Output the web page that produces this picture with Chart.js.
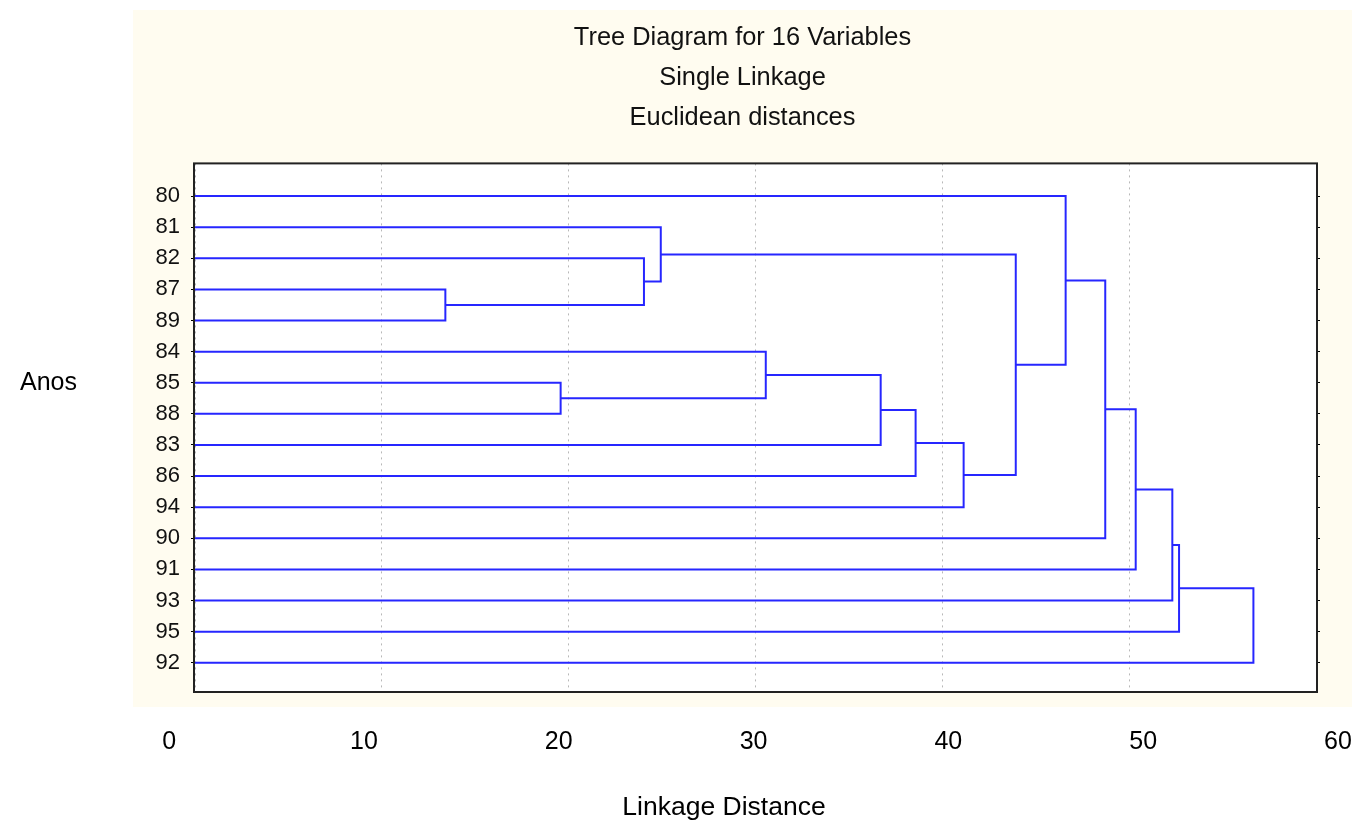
<!DOCTYPE html>
<html>
<head>
<meta charset="utf-8">
<script src="https://cdn.jsdelivr.net/npm/chart.js@4"></script>
<style>
  html, body { margin: 0; background: #fff; }
  canvas { display: block; }
</style>
</head>
<body>
<canvas id="grafico" width="1363" height="824"></canvas>
<script>
const folhas = ["80", "81", "82", "87", "89", "84", "85", "88", "83", "86", "94", "90", "91", "93", "95", "92"];
// cada junção une o grupo juntaA[k] com juntaB[k] (0-15 = anos, 16+ = grupos criados antes)
const juntaA = [3, 6, 2, 1, 5, 8, 9, 10, 19, 0, 11, 12, 13, 14, 15];
const juntaB = [4, 7, 16, 18, 17, 20, 21, 22, 23, 24, 25, 26, 27, 28, 29];
const distancias = [13.4, 19.57, 24.03, 24.93, 30.55, 36.7, 38.57, 41.14, 43.93, 46.6, 48.72, 50.35, 52.31, 52.67, 56.65];
const marcasX = [0, 10, 20, 30, 40, 50, 60];
const titulo = ["Tree Diagram for 16 Variables", "Single Linkage", "Euclidean distances"];

const azul = "#2626ff";
const fonte = "'Liberation Sans', Arial, sans-serif";

// posição vertical e altura de cada grupo
const posY = folhas.map((_, i) => i);
const altura = folhas.map(() => 0);
const conjuntos = distancias.map((d, k) => {
  const a = juntaA[k], b = juntaB[k];
  const ds = {
    data: [
      { x: altura[a], y: posY[a] },
      { x: d, y: posY[a] },
      { x: d, y: posY[b] },
      { x: altura[b], y: posY[b] }
    ],
    showLine: true,
    borderColor: azul,
    borderWidth: 2,
    pointRadius: 0,
    tension: 0
  };
  posY.push((posY[a] + posY[b]) / 2);
  altura.push(d);
  return ds;
});

const fundo = {
  id: "fundo",
  beforeDraw(chart) {
    const ctx = chart.ctx, a = chart.chartArea;
    ctx.save();
    ctx.fillStyle = "#fff";
    ctx.fillRect(0, 0, chart.width, chart.height);
    ctx.fillStyle = "#fffcf0";
    ctx.fillRect(133, 10, 1219, 697);
    ctx.fillStyle = "#fff";
    ctx.fillRect(a.left, a.top, a.right - a.left, a.bottom - a.top);
    ctx.fillStyle = "#000";
    ctx.textBaseline = "middle";
    ctx.font = "25px " + fonte;
    ctx.fillText("Anos", 20, 383);
    ctx.font = "26.5px " + fonte;
    ctx.textAlign = "center";
    ctx.fillText("Linkage Distance", 724, 808);
    ctx.restore();
  },
  beforeDatasetsDraw(chart) {
    const ctx = chart.ctx, a = chart.chartArea;
    ctx.save();
    ctx.strokeStyle = "#222";
    ctx.lineWidth = 2;
    ctx.strokeRect(a.left - 1, a.top, a.right - a.left + 2, a.bottom - a.top);
    ctx.restore();
  }
};

const eixoY = (mostrar) => ({
  type: "linear",
  position: mostrar ? "left" : "right",
  reverse: true,
  min: -1.05,
  max: 15.94,
  afterBuildTicks: s => { s.ticks = folhas.map((_, i) => ({ value: i })); },
  afterFit: s => { s.width = mostrar ? 62 : 36; },
  ticks: {
    display: mostrar,
    padding: 11,
    color: "#111",
    font: { family: fonte, size: 22 },
    callback: v => folhas[v]
  },
  grid: { display: true, drawOnChartArea: false, drawTicks: true, tickLength: 4, color: "#000" },
  border: { display: false }
});

new Chart(document.getElementById("grafico"), {
  type: "scatter",
  data: { datasets: conjuntos },
  options: {
    responsive: false,
    animation: false,
    layout: { padding: { left: 133, right: 11, top: 0, bottom: 0 } },
    plugins: {
      legend: { display: false },
      tooltip: { enabled: false },
      title: {
        display: true,
        text: titulo,
        color: "#111",
        font: { family: fonte, size: 25.4, weight: "normal", lineHeight: 1.58 },
        padding: { top: 18, bottom: 25 }
      }
    },
    scales: {
      x: {
        type: "linear",
        min: 0,
        max: 60,
        afterBuildTicks: s => { s.ticks = marcasX.map(v => ({ value: v })); },
        afterFit: s => { s.height = 0; },
        ticks: { display: false },
        grid: { color: "#b8b8b8", drawTicks: false, lineWidth: 1 },
        border: { display: false, dash: [2, 4] }
      },
      // eixo só para os rótulos de baixo, que no original ficam mais espalhados
      x2: {
        type: "linear",
        position: "bottom",
        weight: 1,
        min: 1.33,
        max: 58.87,
        afterBuildTicks: s => { s.ticks = marcasX.map(v => ({ value: v })); },
        afterFit: s => { s.height = 132; s.paddingLeft = 0; s.paddingRight = 0; },
        ticks: { padding: 27, color: "#000", font: { family: fonte, size: 25 } },
        grid: { display: false },
        border: { display: false }
      },
      y: eixoY(true),
      y2: eixoY(false)
    }
  },
  plugins: [fundo]
});
</script>
</body>
</html>
